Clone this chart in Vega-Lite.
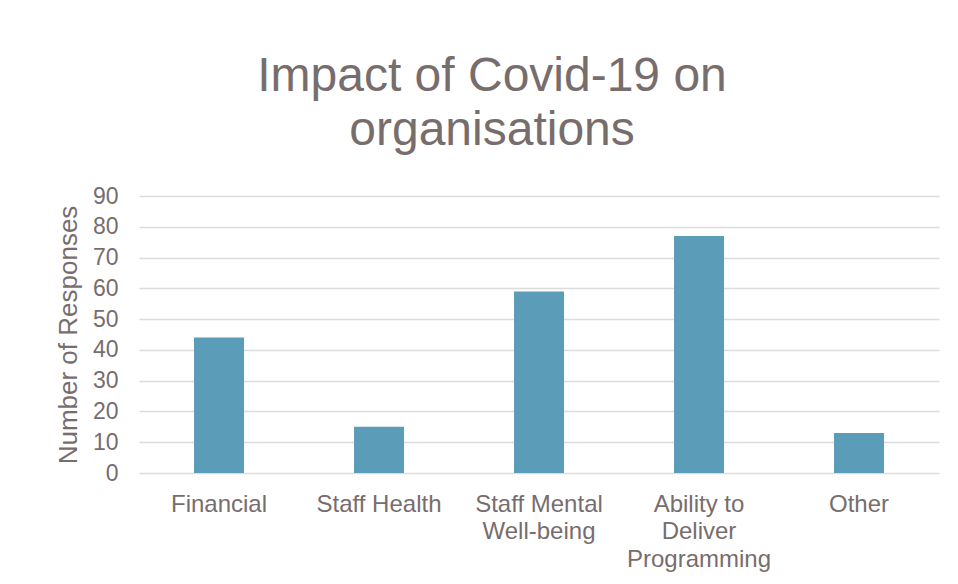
{
  "$schema": "https://vega.github.io/schema/vega-lite/v6.json",
  "autosize": {"type": "none"},
  "width": 800,
  "height": 277,
  "padding": {"left": 139, "top": 196, "right": 19, "bottom": 111},
  "background": "white",
  "title": {
    "text": ["Impact of Covid-19 on", "organisations"],
    "font": "Liberation Sans",
    "fontSize": 48,
    "fontWeight": "normal",
    "color": "#786D6D",
    "lineHeight": 54,
    "anchor": "middle",
    "offset": 30,
    "dx": -47
  },
  "data": {
    "values": [
      {"category": "Financial", "responses": 44},
      {"category": "Staff Health", "responses": 15},
      {"category": "Staff Mental Well-being", "responses": 59},
      {"category": "Ability to Deliver Programming", "responses": 77},
      {"category": "Other", "responses": 13}
    ]
  },
  "mark": {"type": "bar", "color": "#5B9DB9", "width": {"band": 0.3125}},
  "encoding": {
    "x": {
      "field": "category",
      "type": "nominal",
      "sort": null,
      "scale": {"paddingInner": 0, "paddingOuter": 0},
      "axis": {
        "title": null,
        "labelAngle": 0,
        "domain": false,
        "ticks": false,
        "labelFont": "Liberation Sans",
        "labelFontSize": 24,
        "labelColor": "#786D6D",
        "labelPadding": 19,
        "labelLineHeight": 27.5,
        "labelLimit": 300,
        "labelExpr": "datum.label == 'Staff Mental Well-being' ? ['Staff Mental', 'Well-being'] : datum.label == 'Ability to Deliver Programming' ? ['Ability to', 'Deliver', 'Programming'] : datum.label"
      }
    },
    "y": {
      "field": "responses",
      "type": "quantitative",
      "scale": {"domain": [0, 90], "nice": false},
      "axis": {
        "title": "Number of Responses",
        "values": [0, 10, 20, 30, 40, 50, 60, 70, 80, 90],
        "domain": false,
        "ticks": false,
        "grid": true,
        "gridColor": "#DCDCDC",
        "gridWidth": 1.3,
        "labelFont": "Liberation Sans",
        "labelFontSize": 23,
        "labelColor": "#786D6D",
        "labelPadding": 21,
        "titleFont": "Liberation Sans",
        "titleFontSize": 26,
        "titleFontWeight": "normal",
        "titleColor": "#786D6D",
        "titlePadding": 11
      }
    }
  },
  "config": {"view": {"stroke": null}}
}
